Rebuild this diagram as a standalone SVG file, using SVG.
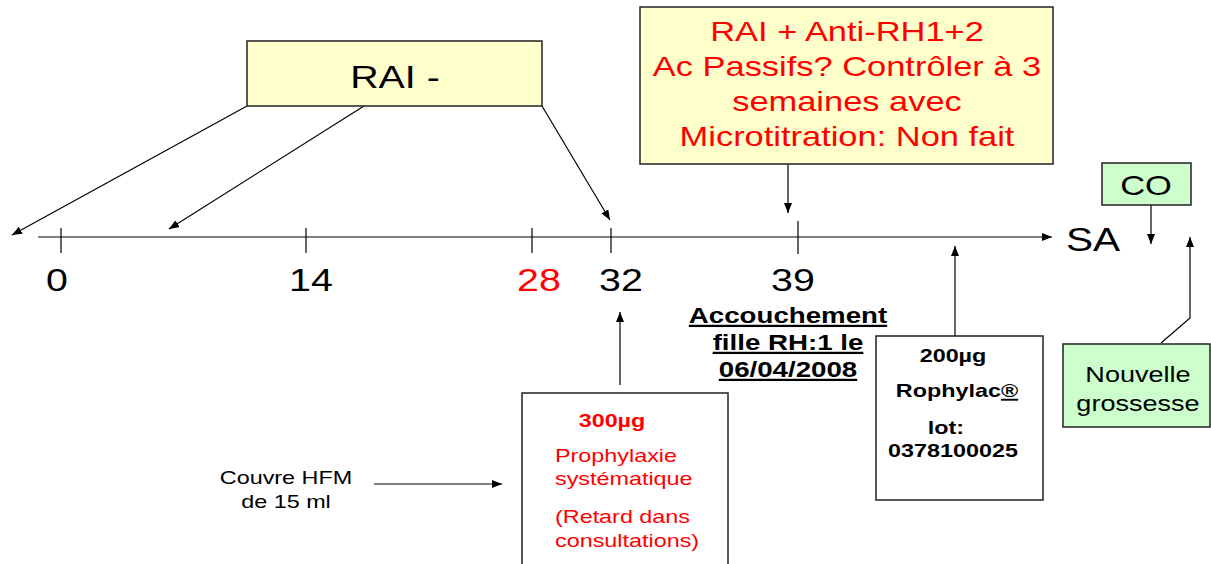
<svg xmlns="http://www.w3.org/2000/svg" width="1211" height="564" viewBox="0 0 1211 564">
<defs>
<marker id="ah" viewBox="0 0 10 8" refX="10" refY="4" markerWidth="10" markerHeight="8" markerUnits="userSpaceOnUse" orient="auto">
<path d="M0,0 L10,4 L0,8 Z" fill="#000"/>
</marker>
</defs>
<style>
text{font-family:"Liberation Sans",Arial,sans-serif;}
.box{stroke:#222;stroke-width:1.5;}
.yel{fill:#FFFFCC;}
.grn{fill:#CCFFCC;}
.wht{fill:#FFFFFF;}
.ln{stroke:#000;stroke-width:1.2;fill:none;}
.arr{stroke:#000;stroke-width:1.2;fill:none;marker-end:url(#ah);}
.red{fill:#FF0000;}
.blk{fill:#000;}
.b{font-weight:bold;}
</style>
<rect width="1211" height="564" fill="#FFFFFF"/>

<g id="connectors">
<line class="arr" x1="38" y1="237" x2="1052" y2="237"/>
<line class="ln" x1="61" y1="228" x2="61" y2="253"/>
<line class="ln" x1="306" y1="228" x2="306" y2="253"/>
<line class="ln" x1="532" y1="228" x2="532" y2="253"/>
<line class="ln" x1="611" y1="228" x2="611" y2="253"/>
<line class="ln" x1="798" y1="221" x2="798" y2="254"/>
<line class="arr" x1="247" y1="106" x2="12" y2="235"/>
<line class="arr" x1="364" y1="106" x2="169" y2="229"/>
<line class="arr" x1="542" y1="106" x2="610" y2="220"/>
<line class="arr" x1="788" y1="164" x2="788" y2="213"/>
<line class="arr" x1="1151" y1="205" x2="1151" y2="244"/>
<polyline class="arr" points="1161,343 1190,318 1190,237"/>
<line class="arr" x1="955" y1="336" x2="955" y2="246"/>
<line class="arr" x1="620" y1="385" x2="620" y2="312"/>
<line class="arr" x1="374" y1="484" x2="502" y2="484"/>
</g>

<g id="rai-minus">
<rect class="box yel" x="247" y="41" width="295" height="65"/>
<text class="blk" font-size="32" text-anchor="middle" transform="translate(395,88) scale(1.23,1)">RAI -</text>
</g>

<g id="rai-plus">
<rect class="box yel" x="640" y="7" width="413" height="157"/>
<text class="red" font-size="28" text-anchor="middle" transform="translate(847,41) scale(1.23,1)"><tspan x="0" y="0">RAI + Anti-RH1+2</tspan><tspan x="0" y="35">Ac Passifs? Contrôler à 3</tspan><tspan x="0" y="70">semaines avec</tspan><tspan x="0" y="105">Microtitration: Non fait</tspan></text>
</g>

<g id="labels">
<text class="blk" font-size="32" text-anchor="middle" transform="translate(57,291) scale(1.23,1)">0</text>
<text class="blk" font-size="32" text-anchor="middle" transform="translate(311,291) scale(1.23,1)">14</text>
<text class="red" font-size="32" text-anchor="middle" transform="translate(539,291) scale(1.23,1)">28</text>
<text class="blk" font-size="32" text-anchor="middle" transform="translate(621,291) scale(1.23,1)">32</text>
<text class="blk" font-size="32" text-anchor="middle" transform="translate(793,291) scale(1.23,1)">39</text>
<text class="blk" font-size="33" text-anchor="start" transform="translate(1066,251) scale(1.23,1)">SA</text>
</g>

<g id="co">
<rect class="box grn" x="1102" y="163" width="89" height="42"/>
<text class="blk" font-size="28" text-anchor="middle" transform="translate(1146,195) scale(1.23,1)">CO</text>
</g>

<g id="nouvelle">
<rect class="box grn" x="1063" y="344" width="147" height="83"/>
<text class="blk" font-size="22" text-anchor="middle" transform="translate(1138,382) scale(1.23,1)"><tspan x="0" y="0">Nouvelle</tspan><tspan x="0" y="29">grossesse</tspan></text>
</g>

<g id="accouchement">
<text class="blk b" font-size="22.5" text-anchor="middle" text-decoration="underline" transform="translate(788,323) scale(1.23,1)"><tspan x="0" y="0">Accouchement</tspan><tspan x="0" y="27">fille RH:1 le</tspan><tspan x="0" y="54">06/04/2008</tspan></text>
</g>

<g id="rophylac">
<rect class="box wht" x="876" y="336" width="167" height="164"/>
<text class="blk b" font-size="19" text-anchor="middle" transform="translate(953,362) scale(1.23,1)">200µg</text>
<text class="blk b" font-size="19" text-anchor="middle" transform="translate(957,397) scale(1.23,1)">Rophylac<tspan text-decoration="underline">®</tspan></text>
<text class="blk b" font-size="19" text-anchor="middle" transform="translate(946,434) scale(1.23,1)">lot:</text>
<text class="blk b" font-size="19" text-anchor="middle" transform="translate(953,457) scale(1.23,1)">0378100025</text>
</g>

<g id="prophylaxie">
<rect class="box wht" x="522" y="393" width="206" height="180"/>
<text class="red b" font-size="19" text-anchor="middle" transform="translate(612,427) scale(1.23,1)">300µg</text>
<text class="red" font-size="19" text-anchor="start" transform="translate(555,462) scale(1.23,1)"><tspan x="0" y="0">Prophylaxie</tspan><tspan x="0" y="23">systématique</tspan><tspan x="0" y="61">(Retard dans</tspan><tspan x="0" y="85">consultations)</tspan></text>
</g>

<g id="couvre">
<text class="blk" font-size="19" text-anchor="middle" transform="translate(286,484) scale(1.23,1)"><tspan x="0" y="0">Couvre HFM</tspan><tspan x="0" y="24">de 15 ml</tspan></text>
</g>
</svg>
